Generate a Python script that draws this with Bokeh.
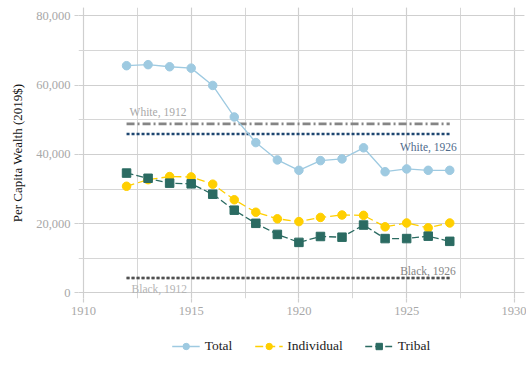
from bokeh.plotting import figure
from bokeh.layouts import column
from bokeh.models import (ColumnDataSource, Range1d, SingleIntervalTicker, NumeralTickFormatter,
                          Legend, LegendItem)
from bokeh.core.properties import value
from bokeh.embed import file_html
from bokeh.resources import INLINE

years = [1912, 1913, 1914, 1915, 1916, 1917, 1918, 1919, 1920, 1921, 1922, 1923, 1924, 1925, 1926, 1927]
total = [65600, 65900, 65300, 64900, 59900, 50800, 43400, 38400, 35400, 38200, 38700, 41900, 35000, 35800, 35400, 35400]
individual = [30800, 32700, 33600, 33500, 31400, 26900, 23300, 21400, 20600, 21800, 22500, 22400, 19100, 20200, 18800, 20200]
tribal = [34600, 33100, 31700, 31500, 28500, 23900, 20100, 16900, 14600, 16300, 16100, 19600, 15700, 15700, 16400, 14900]

series_names = ["Total", "Individual", "Tribal"]

ref_names = ["White, 1912", "White, 1926", "Black, 1912", "Black, 1926"]
ref_values = [48800, 45900, 4300, 4300]
ref_start = 1912
ref_end = 1927

FONT = "Liberation Serif"

p = figure(width=526, height=325, output_backend="svg", toolbar_location=None,
           x_range=Range1d(1909.77, 1930.47), y_range=Range1d(-1600, 82400),
           min_border_left=78, min_border_right=2, min_border_top=7, min_border_bottom=27,
           background_fill_color="white", border_fill_color="white")
p.outline_line_color = None

# grids
p.xaxis.ticker = SingleIntervalTicker(interval=5, num_minor_ticks=2)
p.yaxis.ticker = SingleIntervalTicker(interval=20000, num_minor_ticks=2)
for g in (p.xgrid, p.ygrid):
    g.grid_line_color = "#cfcfcf"
    g.grid_line_width = 1.2
    g.minor_grid_line_color = "#d6d6d6"
    g.minor_grid_line_width = 1.0

for ax in (p.xaxis, p.yaxis):
    ax.axis_line_color = None
    ax.major_tick_line_color = "#cfcfcf"
    ax.major_tick_line_width = 1.2
    ax.major_tick_in = 0
    ax.major_tick_out = 4
    ax.minor_tick_line_color = None
    ax.major_label_text_font = FONT
    ax.major_label_text_font_size = "12.5px"
    ax.major_label_text_color = "#a8a8a8"
    ax.major_label_standoff = 4
p.yaxis.formatter = NumeralTickFormatter(format="0,0")
p.yaxis.axis_label = "Per Capita Wealth (2019$)"
p.yaxis.axis_label_text_font = FONT
p.yaxis.axis_label_text_font_style = "normal"
p.yaxis.axis_label_text_font_size = "13px"
p.yaxis.axis_label_text_color = "#111111"
p.yaxis.axis_label_standoff = 8

# reference lines
ref_colors = ["#858585", "#1d4670", "#9a9a9a", "#505050"]
ref_dash = ["8 3 2 3", "3 2", "3 2", "3 2"]
for v, c, d in zip(ref_values, ref_colors, ref_dash):
    p.line([ref_start, ref_end], [v, v], line_color=c, line_width=2.6, line_dash=d)

label_colors = ["#a8a8a8", "#4f6b8c", "#b4b4b4", "#858585"]
label_x = [ref_start, ref_end, ref_start, ref_end]
label_align = ["left", "right", "left", "right"]
label_xoff = [3, 7, 5, 6]
label_yoff = [-12, 13, 11, -7]
for name, v, c, x, a, xo, yo in zip(ref_names, ref_values, label_colors, label_x, label_align, label_xoff, label_yoff):
    p.text(x=[x], y=[v], text=[name], text_font=value(FONT), text_font_size="11.5px",
           text_color=c, text_align=a, text_baseline="middle", x_offset=xo, y_offset=yo)

src = ColumnDataSource(dict(year=years, total=total, individual=individual, tribal=tribal))

c_total = "#9ecae1"
c_ind = "#ffcf00"
c_tri = "#2b6b62"
styles = [
    dict(col="total", color=c_total, dash="solid", marker="circle"),
    dict(col="individual", color=c_ind, dash="8 4", marker="circle"),
    dict(col="tribal", color=c_tri, dash="7 3", marker="square"),
]
for s in styles:
    p.line("year", s["col"], source=src, line_color=s["color"], line_width=1.3, line_dash=s["dash"])
    p.scatter("year", s["col"], source=src, marker=s["marker"], size=8.5,
              fill_color=s["color"], line_color=s["color"])

# legend strip below the chart (its renderers use the same data, outside this strip's ranges)
lf = figure(width=526, height=41, output_backend="svg", toolbar_location=None,
            x_range=Range1d(0, 1), y_range=Range1d(0, 1),
            min_border_left=78, min_border_right=2, min_border_top=0, min_border_bottom=0,
            background_fill_color="white", border_fill_color="white")
lf.axis.visible = False
lf.grid.visible = False
lf.outline_line_color = None
items = []
for name, s in zip(series_names, styles):
    lr = lf.line("year", s["col"], source=src, line_color=s["color"], line_width=1.3, line_dash=s["dash"])
    sr = lf.scatter("year", s["col"], source=src, marker=s["marker"], size=8.5,
                    fill_color=s["color"], line_color=s["color"])
    items.append(LegendItem(label=name, renderers=[lr, sr]))

legend = Legend(items=items, orientation="horizontal", location="center",
                label_text_font=FONT, label_text_font_size="13.5px", label_text_color="#222222",
                glyph_width=28, glyph_height=16, label_height=16, label_standoff=5, spacing=22,
                border_line_color=None, background_fill_alpha=0, padding=2, margin=0)
lf.add_layout(legend)

layout = column(p, lf, spacing=0)
open("out.html", "w").write(file_html(layout, INLINE))
